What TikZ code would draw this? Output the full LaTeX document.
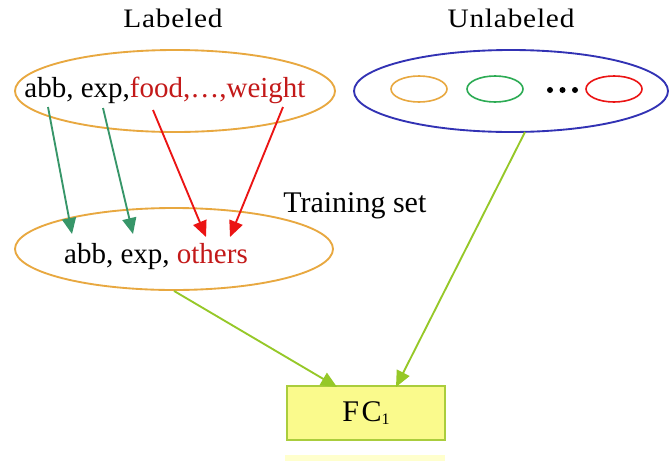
\documentclass[tikz,border=0pt]{standalone}
\usepackage{fontspec}
\setmainfont{Liberation Serif}
\newfontfamily\wideserif[LetterSpace=3,FakeStretch=1.1]{Liberation Serif}
\newfontfamily\midserif[LetterSpace=8]{Liberation Serif}
\usetikzlibrary{shapes.geometric,arrows.meta}
\definecolor{orng}{RGB}{232,168,64}
\definecolor{blu}{RGB}{50,50,180}
\definecolor{grn}{RGB}{55,150,105}
\definecolor{rd}{RGB}{235,20,20}
\definecolor{lime}{RGB}{150,200,40}
\definecolor{boxfill}{RGB}{250,250,140}
\definecolor{boxline}{RGB}{170,205,60}
\definecolor{txtred}{RGB}{195,25,25}
\definecolor{paleyel}{RGB}{255,255,205}
\begin{document}
\begin{tikzpicture}[x=0.75pt,y=-0.75pt,
  ell/.style={ellipse,inner sep=0pt,line width=1.4pt},
  title/.style={font=\wideserif\fontsize{20pt}{22pt}\selectfont,inner sep=0pt},
  body/.style={font=\fontsize{21.75pt}{24pt}\selectfont,inner sep=0pt},
  arr/.style={line width=1.4pt,-{Triangle[length=12pt,width=10.5pt]}},
  dot/.style={circle,fill=black,inner sep=0pt,minimum size=4.5pt}]
\useasboundingbox (0,0) rectangle (670,461);
\fill[white] (0,0) rectangle (670,461);
\fill[paleyel] (285,455) rectangle (445,461);

% titles
\node[title] (labt) at (173,18) {Labeled};
\node[title] (unlt) at (511,18) {Unlabeled};

% labeled set
\node[ell,draw=orng,minimum width=240pt,minimum height=61.5pt] (lab) at (175,91) {};
\node[body] (labtxt) at (165,90) {abb, exp,\textcolor{txtred}{food,\ldots,weight}};

% unlabeled set
\node[ell,draw=blu,minimum width=235.5pt,minimum height=61.5pt] (unl) at (511,91) {};
\node[ell,draw=orng,line width=1.2pt,minimum width=42pt,minimum height=19.5pt] (u1) at (419,89) {};
\node[ell,draw=grn!80!green,line width=1.2pt,minimum width=42pt,minimum height=19.5pt] (u2) at (495,89) {};
\node[ell,draw=rd,line width=1.2pt,minimum width=42pt,minimum height=19.5pt] (u3) at (614,89) {};
\node[dot] (d1) at (550,90) {};
\node[dot] (d2) at (562.5,90) {};
\node[dot] (d3) at (575,90) {};

% training set
\node[body,font=\fontsize{22.5pt}{24pt}\selectfont,anchor=west] (tst) at (283,206) {Training set};
\node[ell,draw=orng,minimum width=238.5pt,minimum height=61.5pt] (trn) at (174,249) {};
\node[body] (trtxt) at (156,257) {abb, exp, \textcolor{txtred}{others}};

% FC box
\node[draw=boxline,fill=boxfill,line width=1.2pt,minimum width=118.5pt,minimum height=40.5pt,
      font=\midserif\fontsize{22.5pt}{24pt}\selectfont] (fc) at (366,413) {FC\raisebox{-0.25ex}{\fontsize{12pt}{14pt}\selectfont 1}};

% arrow end points
\coordinate (g1s) at (48,107);  \coordinate (g1e) at (72,234);
\coordinate (g2s) at (103,108); \coordinate (g2e) at (133,234);
\coordinate (r1s) at (153,110); \coordinate (r1e) at (206,237);
\coordinate (r2s) at (283,107); \coordinate (r2e) at (230,237);
\coordinate (l1e) at (337,387);
\coordinate (l2s) at (525,132); \coordinate (l2e) at (396,387);

\draw[arr,grn] (g1s) -- (g1e);
\draw[arr,grn] (g2s) -- (g2e);
\draw[arr,rd] (r1s) -- (r1e);
\draw[arr,rd] (r2s) -- (r2e);
\draw[arr,lime] (trn.south) -- (l1e);
\draw[arr,lime] (l2s) -- (l2e);
\end{tikzpicture}
\end{document}
